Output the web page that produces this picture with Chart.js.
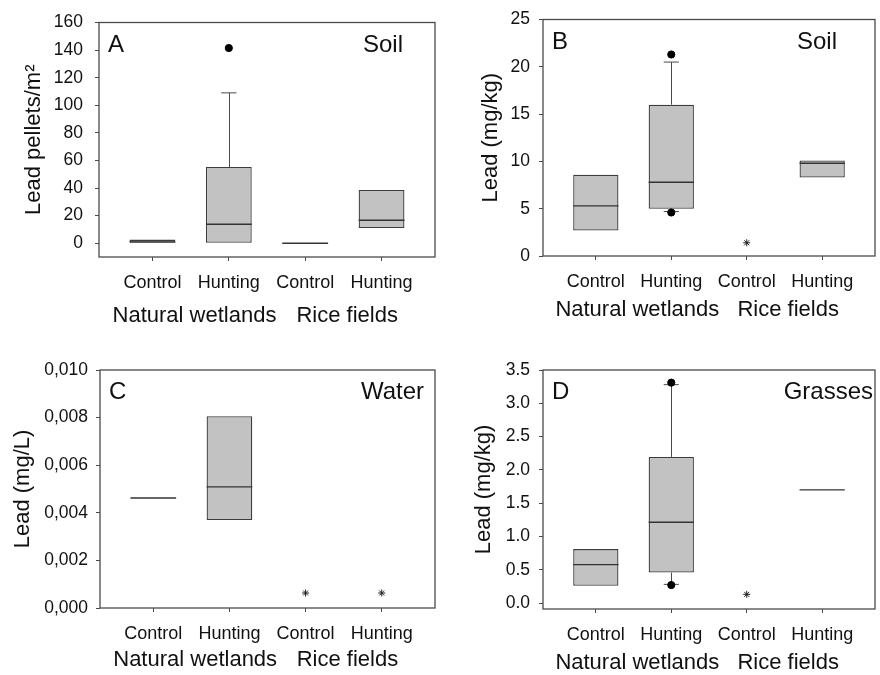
<!DOCTYPE html>
<html>
<head>
<meta charset="utf-8">
<script src="https://cdn.jsdelivr.net/npm/chart.js@4.4.1/dist/chart.umd.min.js"></script>
<style>
	body { margin: 0; background: #fff; }
	#wrap { position: relative; width: 880px; height: 675px; }
	canvas { position: absolute; }
</style>
</head>
<body>
<div id="wrap">
	<canvas id="cA" width="440" height="337" style="left:0;top:0"></canvas>
	<canvas id="cB" width="440" height="337" style="left:440px;top:0"></canvas>
	<canvas id="cC" width="440" height="338" style="left:0;top:337px"></canvas>
	<canvas id="cD" width="440" height="338" style="left:440px;top:337px"></canvas>
</div>
<script>
const categories = ['Control', 'Hunting', 'Control', 'Hunting']
const groups = ['Natural wetlands', 'Rice fields']

// A - soil, lead pellets/m2
const aQ1 = [0, 0, null, 11]
const aMedian = [1, 13.7, 0, 16.6]
const aQ3 = [2.6, 55.2, null, 38.6]
const aWhiskerLow = [null, null, null, null]
const aWhiskerHigh = [null, 109, null, null]
const aOutlierX = [1]
const aOutlierY = [141.5]
const aStarX = []
const aStarY = []
const aTicks = [0, 20, 40, 60, 80, 100, 120, 140, 160]

// B - soil, mg/kg
const bQ1 = [2.7, 5.0, null, 8.3]
const bMedian = [5.3, 7.8, null, 9.8]
const bQ3 = [8.6, 16.0, null, 10.1]
const bWhiskerLow = [null, 4.7, null, null]
const bWhiskerHigh = [null, 20.5, null, null]
const bOutlierX = [1, 1]
const bOutlierY = [21.3, 4.6]
const bStarX = [2]
const bStarY = [1.4]
const bTicks = [0, 5, 10, 15, 20, 25]

// C - water, mg/L
const cQ1 = [null, 0.0037, null, null]
const cMedian = [0.00462, 0.00509, null, null]
const cQ3 = [null, 0.00806, null, null]
const cWhiskerLow = [null, null, null, null]
const cWhiskerHigh = [null, null, null, null]
const cOutlierX = []
const cOutlierY = []
const cStarX = [2, 3]
const cStarY = [0.00063, 0.00063]
const cTicks = [0, 0.002, 0.004, 0.006, 0.008, 0.010]

// D - grasses, mg/kg
const dQ1 = [0.26, 0.457, null, null]
const dMedian = [0.577, 1.213, null, 1.70]
const dQ3 = [0.81, 2.195, null, null]
const dWhiskerLow = [null, 0.28, null, null]
const dWhiskerHigh = [null, 3.28, null, null]
const dOutlierX = [1, 1]
const dOutlierY = [3.31, 0.27]
const dStarX = [2]
const dStarY = [0.13]
const dTicks = [0, 0.5, 1, 1.5, 2, 2.5, 3, 3.5]

const FONT = "'Liberation Sans', Arial, Helvetica, sans-serif"
const LINE = '#4a4a4a'
const panels = {}

const boxParts = {
	id: 'boxParts',
	beforeDatasetsDraw(chart) {
		const p = panels[chart.canvas.id]
		const x = chart.scales.x, y = chart.scales.y, ctx = chart.ctx
		ctx.save()
		ctx.strokeStyle = LINE
		ctx.lineWidth = 1
		p.q1.forEach((_, i) => {
			const cx = Math.round(x.getPixelForValue(i)) + 0.5
			const capL = x.getPixelForValue(i - 0.1), capR = x.getPixelForValue(i + 0.1)
			const ends = [[p.hi[i], p.q3[i]], [p.lo[i], p.q1[i]]]
			ends.forEach(([w, b]) => {
				if (w == null) return
				const wy = y.getPixelForValue(w), by = y.getPixelForValue(b)
				ctx.beginPath()
				ctx.moveTo(cx, by); ctx.lineTo(cx, wy)
				ctx.moveTo(capL, wy); ctx.lineTo(capR, wy)
				ctx.stroke()
			})
		})
		ctx.restore()
	},
	afterDatasetsDraw(chart) {
		const p = panels[chart.canvas.id]
		const x = chart.scales.x, y = chart.scales.y, ctx = chart.ctx
		ctx.save()
		ctx.strokeStyle = '#333'
		ctx.lineWidth = 1.4
		p.median.forEach((m, i) => {
			if (m == null) return
			const my = y.getPixelForValue(m)
			ctx.beginPath()
			ctx.moveTo(x.getPixelForValue(i - 0.3), my)
			ctx.lineTo(x.getPixelForValue(i + 0.3), my)
			ctx.stroke()
		})
		ctx.restore()
	},
	afterDraw(chart) {
		const p = panels[chart.canvas.id]
		const a = chart.chartArea, x = chart.scales.x, ctx = chart.ctx
		ctx.save()
		ctx.strokeStyle = LINE
		ctx.lineWidth = 1.3
		ctx.strokeRect(a.left, a.top, a.right - a.left, a.bottom - a.top)
		ctx.fillStyle = '#111'
		ctx.textBaseline = 'alphabetic'
		ctx.font = '24px ' + FONT
		ctx.textAlign = 'left'
		ctx.fillText(p.letter, a.left + 9, a.top + 29)
		ctx.textAlign = 'right'
		ctx.fillText(p.name, a.right - p.nameRight, a.top + 29)
		ctx.font = '22px ' + FONT
		ctx.textAlign = 'center'
		ctx.textBaseline = 'middle'
		ctx.fillText(groups[0], x.getPixelForValue(0.55), a.bottom + p.groupOffset)
		ctx.fillText(groups[1], x.getPixelForValue(2.55), a.bottom + p.groupOffset)
		ctx.restore()
	}
}

function makePanel(id, d) {
	panels[id] = d
	const boxes = categories.map((c, i) => ({ x: i, y: d.q1[i] == null ? null : [d.q1[i], d.q3[i]] }))
	return new Chart(document.getElementById(id), {
		data: {
			datasets: [
				{
					type: 'scatter',
					data: d.outX.map((v, i) => ({ x: v, y: d.outY[i] })),
					pointRadius: 3.6,
					pointBackgroundColor: '#000',
					pointBorderColor: '#000'
				},
				{
					type: 'scatter',
					data: d.starX.map((v, i) => ({ x: v, y: d.starY[i] })),
					pointStyle: 'star',
					pointRadius: 3.5,
					pointBorderWidth: 1,
					pointBorderColor: '#222'
				},
				{
					type: 'bar',
					data: boxes,
					backgroundColor: '#c2c2c2',
					borderColor: '#3c3c3c',
					borderWidth: 1.3,
					borderSkipped: false,
					barPercentage: 0.6,
					categoryPercentage: 1
				}
			]
		},
		options: {
			responsive: false,
			animation: false,
			layout: { padding: { top: d.padTop, right: d.padRight, left: 0, bottom: 0 } },
			plugins: { legend: { display: false }, tooltip: { enabled: false } },
			scales: {
				x: {
					type: 'linear',
					min: -0.7,
					max: 3.7,
					offset: false,
					afterBuildTicks: s => { s.ticks = categories.map((c, i) => ({ value: i })) },
					afterFit: s => { s.height = d.xHeight },
					grid: { display: true, offset: false, drawOnChartArea: false, drawTicks: true, tickLength: 4, color: LINE },
					border: { display: false },
					ticks: {
						callback: v => categories[v],
						padding: 11,
						maxRotation: 0,
						autoSkip: false,
						color: '#111',
						font: { family: FONT, size: 18 }
					}
				},
				y: {
					type: 'linear',
					min: d.yMin,
					max: d.yMax,
					afterBuildTicks: s => { s.ticks = d.ticks.map(v => ({ value: v })) },
					afterFit: s => { s.width = d.yWidth },
					grid: { display: true, drawOnChartArea: false, drawTicks: true, tickLength: 4, color: LINE },
					border: { display: false },
					ticks: {
						callback: d.fmt,
						padding: d.tickPad,
						color: '#111',
						font: { family: FONT, size: 17.5 }
					},
					title: {
						display: true,
						text: d.title,
						color: '#111',
						padding: { top: d.titlePad, bottom: 0 },
						font: { family: FONT, size: 22 }
					}
				}
			}
		},
		plugins: [boxParts]
	})
}

makePanel('cA', {
	q1: aQ1, median: aMedian, q3: aQ3, lo: aWhiskerLow, hi: aWhiskerHigh,
	outX: aOutlierX, outY: aOutlierY, starX: aStarX, starY: aStarY, ticks: aTicks,
	yMin: -10, yMax: 160, fmt: v => String(v),
	title: 'Lead pellets/m\u00b2', letter: 'A', name: 'Soil', nameRight: 32, groupOffset: 59,
	padTop: 18, padRight: 3, yWidth: 99, xHeight: 80, tickPad: 12, titlePad: 21
})
makePanel('cB', {
	q1: bQ1, median: bMedian, q3: bQ3, lo: bWhiskerLow, hi: bWhiskerHigh,
	outX: bOutlierX, outY: bOutlierY, starX: bStarX, starY: bStarY, ticks: bTicks,
	yMin: 0, yMax: 25, fmt: v => String(v),
	title: 'Lead (mg/kg)', letter: 'B', name: 'Soil', nameRight: 38, groupOffset: 54,
	padTop: 18, padRight: 2, yWidth: 103, xHeight: 81, tickPad: 9, titlePad: 38
})
makePanel('cC', {
	q1: cQ1, median: cMedian, q3: cQ3, lo: cWhiskerLow, hi: cWhiskerHigh,
	outX: cOutlierX, outY: cOutlierY, starX: cStarX, starY: cStarY, ticks: cTicks,
	yMin: 0, yMax: 0.010, fmt: v => v.toFixed(3).replace('.', ','),
	title: 'Lead (mg/L)', letter: 'C', name: 'Water', nameRight: 11, groupOffset: 52,
	padTop: 33, padRight: 2, yWidth: 100, xHeight: 67, tickPad: 8, titlePad: 10
})
makePanel('cD', {
	q1: dQ1, median: dMedian, q3: dQ3, lo: dWhiskerLow, hi: dWhiskerHigh,
	outX: dOutlierX, outY: dOutlierY, starX: dStarX, starY: dStarY, ticks: dTicks,
	yMin: -0.09, yMax: 3.5, fmt: v => v.toFixed(1),
	title: 'Lead (mg/kg)', letter: 'D', name: 'Grasses', nameRight: 2, groupOffset: 54,
	padTop: 33, padRight: 2, yWidth: 103, xHeight: 66, tickPad: 9, titlePad: 31
})
</script>
</body>
</html>
